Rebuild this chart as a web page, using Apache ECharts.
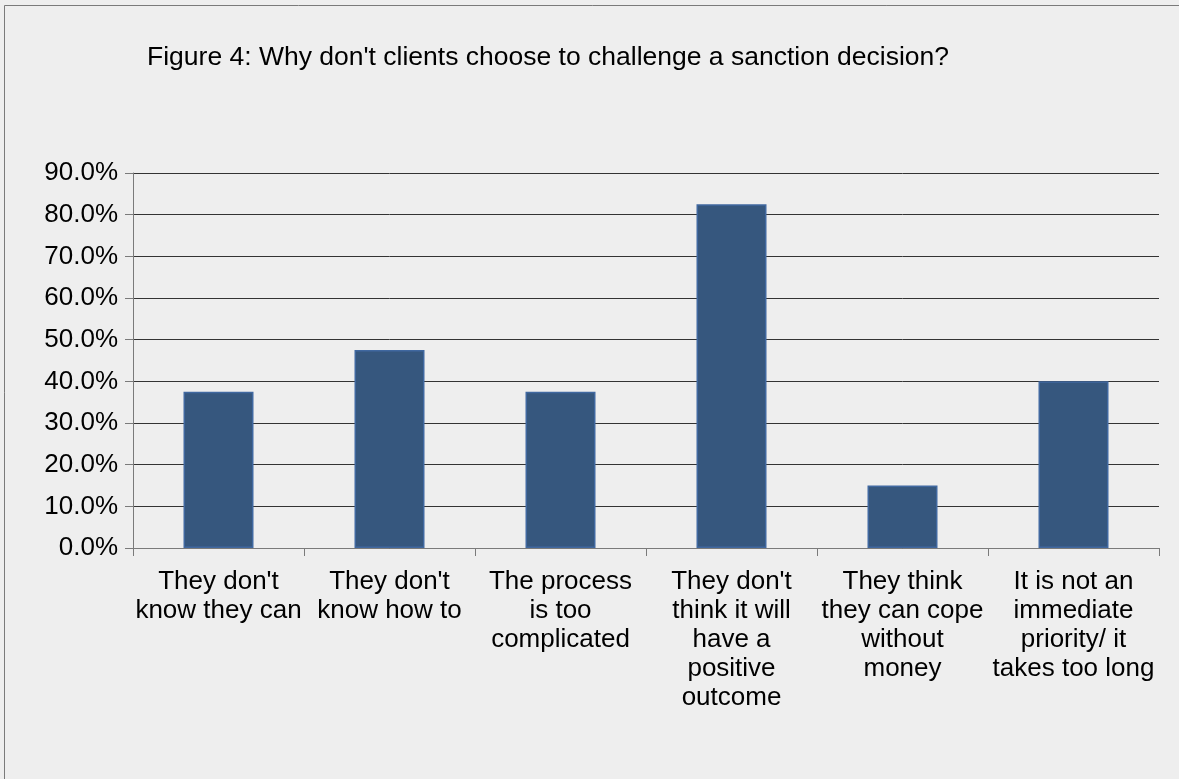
<!DOCTYPE html>
<html>
<head>
<meta charset="utf-8">
<script src="https://cdn.jsdelivr.net/npm/echarts@6/dist/echarts.min.js"></script>
<style>
  html, body { margin: 0; padding: 0; background: #eeeeee; }
  #chart { width: 1179px; height: 779px; }
</style>
</head>
<body>
<div id="chart"></div>
<script>
// Reasons given for not challenging a sanction decision (share of respondents, %)
const titleText = "Figure 4: Why don't clients choose to challenge a sanction decision?";
const categories = [
  "They don't\nknow they can",
  "They don't\nknow how to",
  "The process\nis too\ncomplicated",
  "They don't\nthink it will\nhave a\npositive\noutcome",
  "They think\nthey can cope\nwithout\nmoney",
  "It is not an\nimmediate\npriority/ it\ntakes too long"
];
const shares = [37.5, 47.5, 37.5, 82.5, 15.0, 40.0];
const yMin = 0, yMax = 90, yStep = 10;

const FONT = '"Liberation Sans", Arial, sans-serif';
const chart = echarts.init(document.getElementById('chart'), null, { renderer: 'canvas' });

chart.setOption({
  backgroundColor: '#eeeeee',
  animation: false,
  textStyle: { fontFamily: FONT },
  graphic: [{
    type: 'rect',
    shape: { x: 4.5, y: 5.5, width: 1200, height: 800 },
    style: { fill: 'none', stroke: '#7a7a7a', lineWidth: 1 },
    silent: true
  }],
  title: {
    text: titleText,
    left: 142,
    top: 39,
    textStyle: { fontFamily: FONT, fontSize: 26.5, fontWeight: 'normal', color: '#000' }
  },
  grid: { left: 133, right: 20, top: 173, bottom: 231, containLabel: false },
  xAxis: {
    type: 'category',
    data: categories,
    axisLine: { show: true, lineStyle: { color: '#7a7a7a', width: 1 } },
    axisTick: { show: true, length: 8, alignWithLabel: false, lineStyle: { color: '#7a7a7a' } },
    axisLabel: {
      interval: 0,
      margin: 19,
      fontFamily: FONT,
      fontSize: 26,
      lineHeight: 29,
      color: '#000',
      align: 'center',
      verticalAlign: 'top'
    },
    splitLine: { show: false }
  },
  yAxis: {
    type: 'value',
    min: yMin,
    max: yMax,
    interval: yStep,
    axisLine: { show: true, lineStyle: { color: '#7a7a7a', width: 1 } },
    axisTick: { show: true, length: 8, lineStyle: { color: '#7a7a7a' } },
    axisLabel: {
      margin: 15,
      fontFamily: FONT,
      fontSize: 26,
      color: '#000',
      formatter: v => v.toFixed(1) + '%'
    },
    splitLine: { show: true, lineStyle: { color: '#333333', width: 1 } }
  },
  series: [{
    type: 'bar',
    data: shares,
    barWidth: 70,
    itemStyle: { color: '#36577e', borderColor: '#4068a0', borderWidth: 1.5 }
  }]
});
</script>
</body>
</html>
